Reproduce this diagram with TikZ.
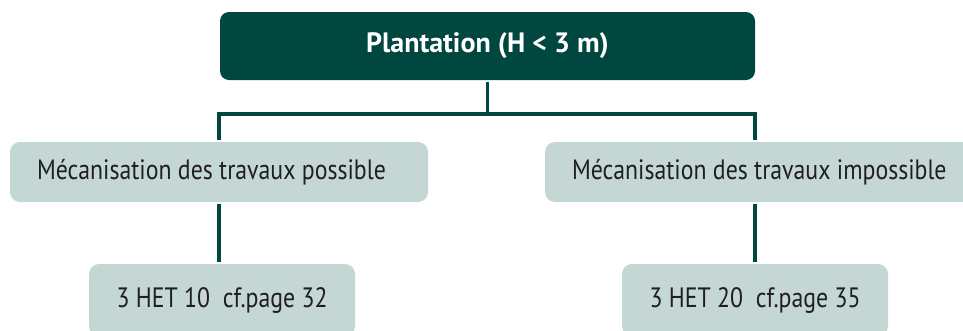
\documentclass[tikz,border=0pt]{standalone}
\usepackage{fontspec}
\setmainfont{PT Sans}[FakeStretch=0.85]
\newfontfamily\titlefont{PT Sans}
\definecolor{darkgreen}{HTML}{00473F}
\definecolor{palegreen}{HTML}{C4D7D4}
\begin{document}
\begin{tikzpicture}[x=1pt,y=-1pt,
  line width=3.2pt,
  title node/.style={rectangle,rounded corners=9pt,fill=darkgreen,text=white,font=\titlefont\fontsize{28}{32}\selectfont\bfseries,inner sep=0pt},
  case node/.style={rectangle,rounded corners=10pt,fill=palegreen,text=black!88,font=\fontsize{28}{32}\selectfont,inner sep=0pt},
  mid node/.style={case node,inner xsep=27pt,align=flush left,minimum height=60pt}]
  \useasboundingbox (0,0) rectangle (963,330);

  \node[title node,minimum width=535pt,minimum height=68pt] (plant) at (487.5,46) {Plantation (H < 3 m)};
  \node[mid node,text width=364pt] (meca1) at (219,172) {Mécanisation des travaux possible};
  \node[mid node,text width=390pt] (meca2) at (767,172) {Mécanisation des travaux impossible};
  \node[case node,minimum width=266pt,minimum height=72pt] (het1) at (222,300) {3 HET 10\ \ cf.page 32};
  \node[case node,minimum width=266pt,minimum height=72pt] (het2) at (755,300) {3 HET 20\ \ cf.page 35};
  \coordinate (fork) at (plant.south |- 0,114);

  \draw[darkgreen] (plant) -- (fork);
  \draw[darkgreen] (fork) -| (meca1);
  \draw[darkgreen] (fork) -| (het2.north |- meca2.north);
  \draw[darkgreen] (meca1.south) -- (meca1.south |- het1.north);
  \draw[darkgreen] (het2.north) -- (het2.north |- meca2.south);
\end{tikzpicture}
\end{document}
